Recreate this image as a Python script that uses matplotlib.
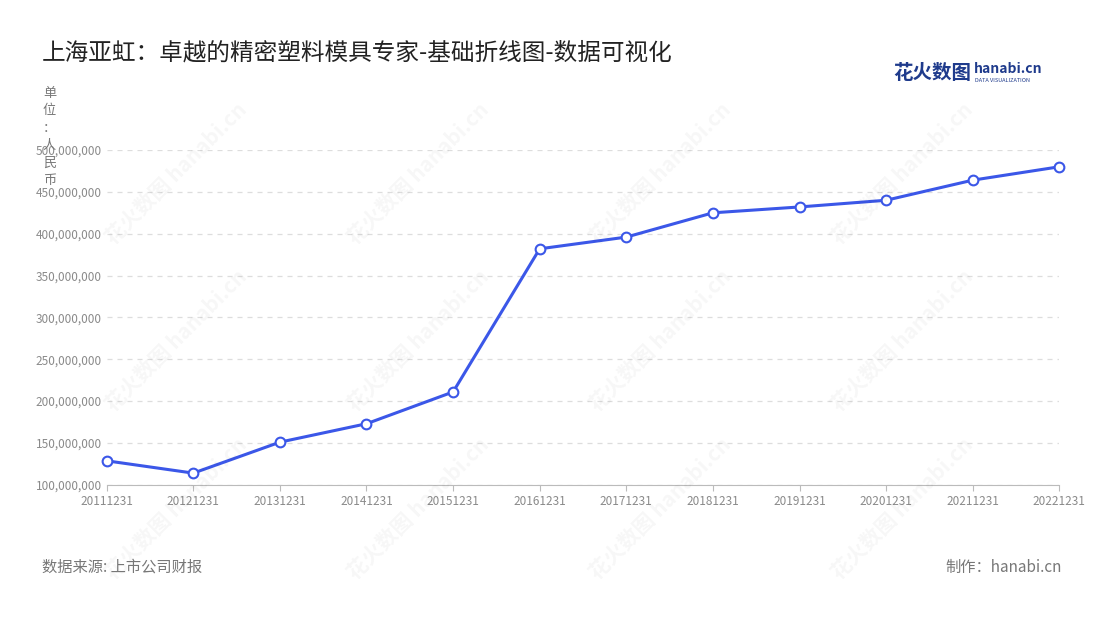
import matplotlib
matplotlib.use("Agg")
import matplotlib.pyplot as plt

plt.rcParams['font.family'] = ['Noto Sans CJK SC', 'DejaVu Sans']

dates = ["20111231", "20121231", "20131231", "20141231", "20151231", "20161231",
         "20171231", "20181231", "20191231", "20201231", "20211231", "20221231"]
revenue = [128.7e6, 114e6, 151e6, 173e6, 211e6, 382e6,
           396e6, 425e6, 432e6, 440e6, 464e6, 480e6]
yticks = [100e6, 150e6, 200e6, 250e6, 300e6, 350e6, 400e6, 450e6, 500e6]

fig = plt.figure(figsize=(11, 6.2), dpi=100)
ax = fig.add_axes([0.097, 0.218, 0.866, 0.54])

# faint watermarks
for wx in [0.16, 0.38, 0.6, 0.82]:
    for wy in [0.72, 0.45, 0.18]:
        fig.text(wx, wy, "花火数图 hanabi.cn", rotation=45, fontsize=15,
                 color="#000000", alpha=0.035, ha="center", va="center", fontweight="bold")

xs = list(range(len(dates)))
ax.plot(xs, revenue, color="#3b57e8", lw=2.2, marker="o", ms=7,
        mfc="white", mec="#3b57e8", mew=1.5, zorder=3, clip_on=False)
ax.set_xlim(0, len(dates) - 1)
ax.set_ylim(100e6, 500e6)
ax.set_yticks(yticks)
ax.set_yticklabels([f"{int(v):,}" for v in yticks])
ax.set_xticks(xs)
ax.set_xticklabels(dates)
ax.tick_params(axis="both", labelsize=8.5, colors="#8a8a8a", length=0)
ax.tick_params(axis="x", length=4, color="#bbbbbb")
ax.grid(axis="y", ls=(0, (4, 4)), color="#dddddd", lw=0.9)
for s in ["top", "right", "left"]:
    ax.spines[s].set_visible(False)
ax.spines["bottom"].set_color("#bbbbbb")

fig.text(0.038, 0.914, "上海亚虹：卓越的精密塑料模具专家-基础折线图-数据可视化",
         fontsize=17, color="#222222", va="center")
fig.text(0.045, 0.86, "单\n位\n：\n人\n民\n币", fontsize=9.5, color="#777777",
         va="top", ha="center", linespacing=1.45)
fig.text(0.812, 0.882, "花火数图", fontsize=14, color="#1f3b8c", fontweight="bold", va="center")
fig.text(0.885, 0.888, "hanabi.cn", fontsize=10, color="#1f3b8c", fontweight="bold", va="center")
fig.text(0.886, 0.870, "DATA VISUALIZATION", fontsize=4, color="#1f3b8c", va="center")
fig.text(0.038, 0.085, "数据来源: 上市公司财报", fontsize=11, color="#777777", va="center")
fig.text(0.965, 0.085, "制作：hanabi.cn", fontsize=11, color="#777777", va="center", ha="right")

fig.savefig("out.png")
